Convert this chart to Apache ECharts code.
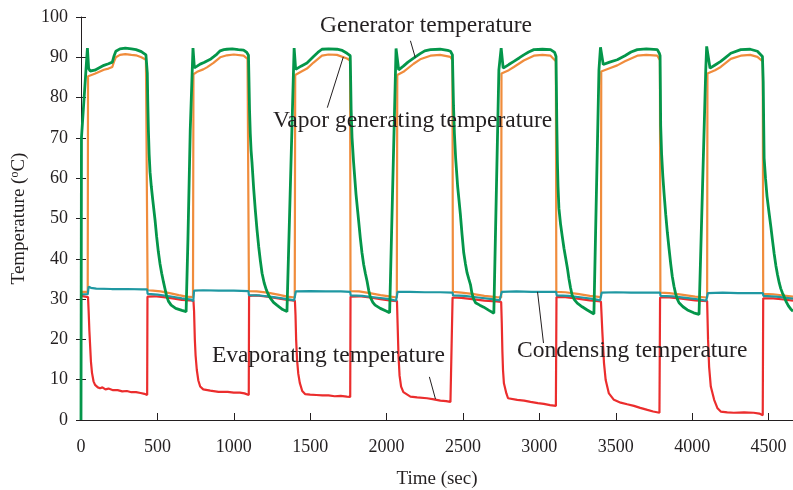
<!DOCTYPE html>
<html>
<head>
<meta charset="utf-8">
<script src="https://cdn.jsdelivr.net/npm/echarts@6/dist/echarts.min.js"></script>
<style>
  html, body { margin: 0; padding: 0; background: #fff; }
  #main { width: 793px; height: 490px; }
</style>
</head>
<body>
<div id="main"></div>
<script>
// [time (sec), temperature (C)]
const generatorTemp = [
  [0,0],[3,70],[42,92.3],[50,87.2],[60,86.6],[90,86.8],[120,87.4],[150,88.0],[180,88.4],[205,88.8],[215,90.2],[228,91.5],[255,92.1],[290,92.3],[330,92.1],[360,91.9],[395,91.4],[425,90.6],[432,90.2],
  [434,86],[437,79],[441,72],[446,66],[452,61.5],[460,58],[470,54.5],[485,49.5],[495,45.5],[506,41.8],[517,38.8],[528,36.4],[540,34.2],[550,32.5],[560,30.8],[572,29.5],[590,28.5],[620,27.7],[660,27.2],[688,26.9],
  [700,45],[715,72],[733,92.3],[742,87.4],[760,87.8],[780,88.3],[805,88.7],[824,89.1],[850,89.6],[867,90.1],[890,90.8],[911,91.6],[935,91.9],[955,92.0],[990,92.1],[1030,91.9],[1064,91.8],[1085,91.2],[1096,90.5],
  [1099,85],[1103,77],[1108,71],[1113,67],[1119,64],[1130,57.5],[1141,52],[1152,47.2],[1163,43],[1174,39.5],[1185,36.4],[1199,34],[1213,32.3],[1225,31.2],[1238,30.3],[1260,29.2],[1282,28.5],[1320,27.4],[1348,26.9],
  [1391,86.9],[1395,92.3],[1405,87.0],[1440,87.8],[1479,88.6],[1522,90.2],[1550,91.2],[1577,92.0],[1620,92.1],[1675,92.0],[1710,91.7],[1741,91.0],[1762,90.4],
  [1765,84],[1768,77],[1774,70],[1784,64],[1800,56],[1817,49.5],[1828,45.2],[1839,41.5],[1850,38.6],[1861,36.4],[1872,34.5],[1883,32.2],[1894,30.4],[1910,29.2],[1925,28.5],[1959,27.7],[2000,27.0],[2020,26.6],
  [2062,92.2],[2079,86.9],[2110,87.8],[2140,88.8],[2177,89.8],[2220,90.9],[2250,91.6],[2287,91.9],[2350,92.0],[2400,91.7],[2418,91.5],[2431,90.6],
  [2434,85],[2438,78],[2444,71],[2452,65],[2465,58],[2483,51],[2494,46],[2505,41.5],[2516,38.8],[2527,36.5],[2538,35],[2549,33.6],[2558,31.6],[2568,30.2],[2582,29.1],[2610,28.5],[2636,28.0],[2670,27.2],[2702,26.5],
  [2735,86.9],[2750,92.3],[2763,87.3],[2800,88.2],[2833,89.0],[2870,89.9],[2898,90.6],[2930,91.3],[2964,91.9],[3020,92.0],[3073,91.9],[3100,91.2],[3109,90.2],
  [3111,84],[3114,74],[3118,64],[3122,58],[3128,52.5],[3139,48.5],[3150,45.5],[3161,42.6],[3172,40.2],[3183,37.8],[3193,35.2],[3204,32.8],[3215,30.9],[3230,29.8],[3248,29.0],[3280,28.1],[3313,27.3],[3357,26.3],
  [3390,86.9],[3400,92.5],[3418,88.2],[3460,88.8],[3510,89.4],[3560,90.4],[3600,91.3],[3641,91.9],[3700,92.1],[3772,91.9],[3785,91.0],[3790,90.4],
  [3792,82],[3794,73],[3800,66],[3808,60.5],[3816,56.3],[3827,51],[3838,46.4],[3849,42.4],[3860,38.6],[3870,35.6],[3881,33.2],[3892,31.3],[3903,30.0],[3914,29.1],[3940,28.1],[3969,27.3],[4010,26.6],[4045,26.2],
  [4089,86.9],[4095,92.7],[4117,87.3],[4150,88.1],[4187,89.0],[4220,90.0],[4253,91.0],[4318,91.9],[4380,92.0],[4427,91.5],[4460,90.2],
  [4465,84],[4468,74],[4471,65],[4480,60],[4490,55.5],[4503,51.5],[4515,48],[4526,44.5],[4537,41.2],[4548,38.3],[4559,36],[4570,34],[4580,32.6],[4591,31.5],[4602,30.6],[4616,29.3],[4630,28.3],[4646,27.5],[4660,27.0]
];

const vaporTemp = [
  [0,31.8],[44,31.8],[46,85.3],[60,85.5],[90,85.9],[120,86.4],[150,86.9],[180,87.2],[205,87.6],[215,88.8],[228,90.0],[255,90.6],[290,90.8],[330,90.6],[360,90.5],[395,90.0],[425,89.4],[434,89.1],
  [436,32.2],[470,32.1],[520,31.9],[580,31.5],[640,31.0],[690,30.6],[733,30.5],
  [736,85.8],[760,86.4],[800,87.0],[824,87.5],[867,88.6],[911,90.0],[955,90.5],[1000,90.7],[1064,90.4],[1090,89.6],[1096,89.2],
  [1099,32.0],[1150,31.9],[1220,31.6],[1290,31.1],[1350,30.6],[1399,30.4],
  [1402,85.6],[1440,86.4],[1479,87.2],[1522,88.7],[1577,90.4],[1620,90.7],[1675,90.6],[1741,89.7],[1761,89.2],
  [1764,32.0],[1820,31.9],[1890,31.5],[1960,31.0],[2030,30.6],[2067,30.4],
  [2070,85.6],[2110,86.4],[2177,88.4],[2220,89.5],[2287,90.4],[2350,90.6],[2418,90.1],[2431,89.3],
  [2434,31.8],[2490,31.6],[2560,31.3],[2640,30.8],[2720,30.5],[2750,30.4],
  [2752,86.0],[2800,86.8],[2833,87.6],[2898,89.2],[2964,90.4],[3020,90.6],[3073,90.4],[3108,89.0],
  [3111,31.8],[3170,31.7],[3250,31.3],[3330,30.8],[3403,30.5],
  [3405,86.5],[3460,87.3],[3510,88.0],[3560,89.0],[3641,90.4],[3700,90.6],[3772,90.4],[3789,89.3],
  [3792,31.6],[3850,31.5],[3930,31.1],[4020,30.6],[4098,30.4],
  [4100,86.0],[4150,86.8],[4187,87.6],[4253,89.6],[4318,90.4],[4380,90.6],[4427,90.1],[4462,89.0],
  [4465,31.3],[4530,31.2],[4600,30.9],[4660,30.6]
];

const condensingTemp = [
  [0,31.2],[44,31.2],[50,33.1],[65,32.8],[100,32.6],[200,32.5],[300,32.5],[400,32.4],[433,32.4],
  [436,31.3],[500,31.1],[580,30.7],[660,30.2],[720,29.9],[735,29.5],
  [740,32.1],[800,32.2],[900,32.1],[1000,32.1],[1096,32.0],
  [1099,31.0],[1170,30.9],[1260,30.5],[1350,30.0],[1395,29.7],[1402,29.4],
  [1406,31.9],[1500,32.0],[1600,31.9],[1700,31.9],[1762,31.8],
  [1765,30.9],[1840,30.8],[1930,30.4],[2020,30.0],[2062,29.6],[2068,29.4],
  [2072,31.8],[2150,31.8],[2250,31.7],[2350,31.7],[2432,31.6],
  [2435,30.9],[2510,30.8],[2600,30.4],[2690,30.0],[2740,29.7],[2748,29.5],
  [2754,31.8],[2850,31.9],[2950,31.8],[3050,31.8],[3110,31.8],
  [3113,30.9],[3190,30.8],[3280,30.4],[3360,30.0],[3398,29.7],[3403,29.4],
  [3408,31.6],[3500,31.7],[3600,31.6],[3700,31.6],[3790,31.6],
  [3793,30.8],[3870,30.7],[3960,30.3],[4050,29.9],[4092,29.6],[4098,29.4],
  [4103,31.5],[4200,31.6],[4300,31.5],[4400,31.5],[4463,31.5],
  [4466,30.8],[4550,30.6],[4660,30.1]
];

const evaporatingTemp = [
  [0,30.8],[46,30.5],[50,27],[55,22],[59,19],[65,14.5],[72,11.7],[82,9.6],[92,8.7],[110,8.1],[125,7.9],[140,8.1],[160,7.6],[180,7.8],[210,7.4],[240,7.4],[270,7.1],[300,7.2],[330,6.9],[360,6.9],[390,6.7],[415,6.5],[433,6.2],
  [435,30.6],[480,30.7],[540,30.5],[600,30.2],[660,29.8],[736,29.6],
  [740,27],[745,20],[750,16],[758,12.4],[768,9.8],[780,8.3],[800,7.6],[846,7.3],[900,7.0],[960,7.0],[1000,6.8],[1040,6.8],[1070,6.6],[1098,6.2],
  [1100,30.8],[1150,30.9],[1220,30.6],[1290,30.2],[1350,29.8],[1400,29.6],
  [1404,26],[1408,20],[1414,15],[1422,11.5],[1432,9.2],[1448,7.2],[1468,6.4],[1500,6.3],[1540,6.2],[1580,6.1],[1620,6.1],[1660,5.9],[1700,6.0],[1740,5.8],[1762,5.7],
  [1764,30.6],[1820,30.7],[1890,30.4],[1960,30.0],[2030,29.6],[2068,29.5],
  [2072,24],[2078,16],[2085,11],[2095,8.3],[2110,6.9],[2156,5.8],[2200,5.6],[2265,5.4],[2310,5.1],[2352,4.8],[2390,4.7],[2418,4.5],[2430,4.4],
  [2432,30.4],[2490,30.3],[2560,30.0],[2640,29.6],[2720,29.4],[2750,29.3],
  [2754,24],[2758,17],[2762,12.4],[2768,9.1],[2784,6.6],[2795,5.4],[2855,5.0],[2900,4.8],[2942,4.5],[2990,4.2],[3029,4.0],[3070,3.7],[3108,3.5],
  [3112,30.5],[3170,30.5],[3250,30.1],[3330,29.7],[3403,29.4],
  [3412,22],[3423,14.1],[3434,9.9],[3455,6.6],[3488,5.0],[3532,4.3],[3575,3.9],[3619,3.5],[3660,3.0],[3707,2.5],[3745,2.1],[3786,1.8],
  [3790,30.4],[3850,30.4],[3930,30.1],[4020,29.7],[4098,29.5],
  [4104,20],[4111,13.2],[4122,8.3],[4144,5.0],[4166,2.9],[4187,2.1],[4230,1.9],[4272,1.8],[4340,1.9],[4403,1.8],[4440,1.6],[4462,1.2],
  [4465,30.2],[4530,30.2],[4600,29.9],[4660,29.6]
];

// annotation text (pixel left / centre line) and leader lines (data coordinates)
const labels = [
  { text: 'Generator temperature', at: [320, 27] },
  { text: 'Vapor generating temperature', at: [273, 122] },
  { text: 'Evaporating temperature', at: [212, 357] },
  { text: 'Condensing temperature', at: [517, 352] }
];
const leaders = [
  [[2156, 94.1], [2188, 89.9]],
  [[1717, 90.1], [1612, 77.5]],
  [[2280, 10.7], [2320, 5.2]],
  [[2988, 31.8], [3027, 19.1]]
];

const font = '"Liberation Serif", "Times New Roman", serif';
const ink = '#231f20';

let myChart = echarts.init(document.getElementById('main'));

function lineSeries(name, data, color, width, z) {
  return {
    name: name,
    type: 'line',
    data: data,
    showSymbol: false,
    symbol: 'none',
    z: z,
    lineStyle: { color: color, width: width },
    animation: false
  };
}

let option = {
  backgroundColor: '#fff',
  animation: false,
  grid: { left: 81, right: 0, top: 17, bottom: 70, containLabel: false, outerBoundsMode: 'none' },
  xAxis: [
    {
      type: 'value', min: 0, max: 4660, interval: 500,
      name: 'Time (sec)', nameLocation: 'middle', nameGap: 50,
      nameTextStyle: { fontFamily: font, fontSize: 19, color: ink },
      axisLine: { lineStyle: { color: ink, width: 1 } },
      axisTick: { inside: true, length: 7, lineStyle: { color: ink } },
      axisLabel: {
        fontFamily: font, fontSize: 18, color: ink, margin: 18, showMaxLabel: false,
        formatter: function (v) { return String(v); }
      },
      splitLine: { show: false }
    },
    {
      type: 'value', position: 'top', min: 0, max: 4660,
      axisLine: { show: true, lineStyle: { color: ink, width: 1 } },
      axisTick: { show: false }, axisLabel: { show: false }, splitLine: { show: false }
    }
  ],
  yAxis: [
    {
      type: 'value', min: 0, max: 100, interval: 10,
      name: 'Temperature ({sup|o}C)', nameLocation: 'middle', nameGap: 52, nameRotate: 90,
      nameTextStyle: {
        fontFamily: font, fontSize: 19, color: ink,
        rich: { sup: { fontFamily: font, fontSize: 12, color: ink, padding: [0, 0, 8, 0] } }
      },
      axisLine: { show: true, lineStyle: { color: ink, width: 1 } },
      axisTick: { inside: false, length: 5, lineStyle: { color: ink } },
      axisLabel: { fontFamily: font, fontSize: 18, color: ink, margin: 13 },
      splitLine: { show: false }
    },
    {
      type: 'value', min: 0, max: 100, interval: 10, position: 'left',
      axisLine: { show: false },
      axisTick: { show: true, inside: true, length: 5, lineStyle: { color: ink } },
      axisLabel: { show: false }, splitLine: { show: false }
    }
  ],
  series: [
    lineSeries('Vapor generating temperature', vaporTemp, '#f08c3c', 2.2, 2),
    lineSeries('Evaporating temperature', evaporatingTemp, '#eb2d2d', 2.2, 3),
    lineSeries('Condensing temperature', condensingTemp, '#1f98a2', 2.2, 4),
    lineSeries('Generator temperature', generatorTemp, '#04964a', 2.8, 5)
  ]
};

myChart.setOption(option);

// annotations after layout, leaders placed through the chart's own scales
let graphics = [];
labels.forEach(function (l) {
  graphics.push({
    type: 'text', left: l.at[0], top: l.at[1] - 13, z: 20,
    style: { text: l.text, font: '23.5px ' + font, fill: ink }
  });
});
leaders.forEach(function (seg) {
  let p1 = myChart.convertToPixel({ gridIndex: 0 }, seg[0]);
  let p2 = myChart.convertToPixel({ gridIndex: 0 }, seg[1]);
  graphics.push({
    type: 'line', z: 20,
    shape: { x1: p1[0], y1: p1[1], x2: p2[0], y2: p2[1] },
    style: { stroke: ink, lineWidth: 1 }
  });
});
myChart.setOption({ graphic: graphics });
</script>
</body>
</html>
